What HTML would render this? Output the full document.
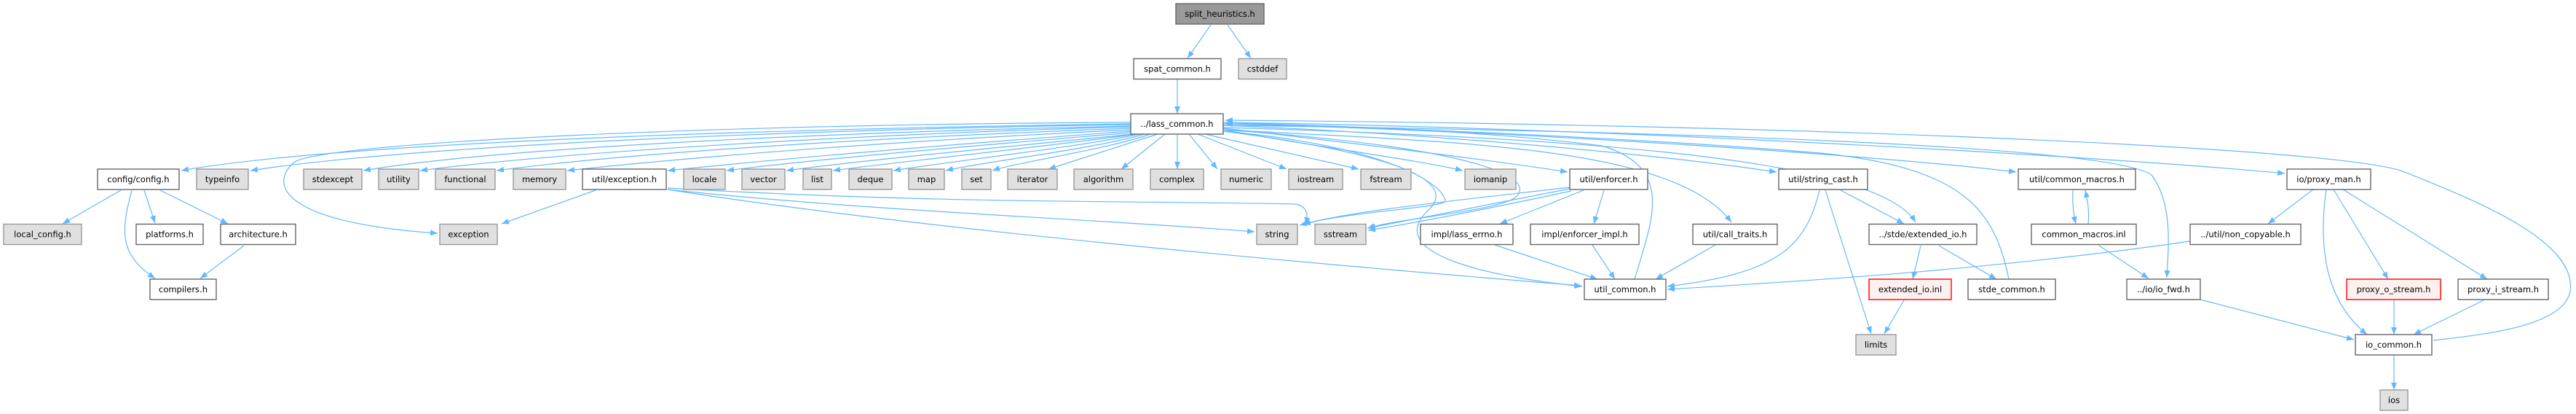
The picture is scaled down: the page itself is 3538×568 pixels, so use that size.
<!DOCTYPE html>
<html><head><meta charset="utf-8"><style>
html,body{margin:0;padding:0;background:#fff}
svg{display:block}
text{font-family:"DejaVu Sans","Liberation Sans",sans-serif;font-size:11.5px;fill:#000;text-anchor:middle}
.n{fill:#fff;stroke:#666;stroke-width:1.4}
.s{fill:#e0e0e0;stroke:#999;stroke-width:1.4}
.r{fill:#fff0f0;stroke:#f00;stroke-width:1.4}
.m{fill:#999;stroke:#666;stroke-width:1.4}
.e{fill:none;stroke:#63b8ff;stroke-width:1.2}
</style></head><body>
<svg width="3538" height="568" viewBox="0 0 3538 568" xmlns="http://www.w3.org/2000/svg">
<defs><marker id="a" viewBox="0 0 10 8" refX="10" refY="4" markerWidth="10" markerHeight="8" markerUnits="userSpaceOnUse" orient="auto"><path d="M0,0 L10,4 L0,8z" fill="#63b8ff"/></marker></defs>
<g class="e" marker-end="url(#a)">
<path d="M1663,34 L1631,80"/>
<path d="M1686,34 L1718,80"/>
<path d="M1617,109 L1617,156"/>
<path d="M1553,170 C1200,175 500,190 249,234"/>
<path d="M1553,171 C1200,176 600,195 344,234"/>
<path d="M1553,173 C1200,180 700,200 499,234"/>
<path d="M1553,174 C1250,182 800,205 577,234"/>
<path d="M1553,176 C1300,185 900,205 682,234"/>
<path d="M1553,178 C1300,190 1000,210 779,234"/>
<path d="M1553,180 C1350,195 1100,215 917,234"/>
<path d="M1553,182 C1400,195 1150,215 998,234"/>
<path d="M1556,184 C1400,200 1200,218 1080,234"/>
<path d="M1560,184 C1450,200 1250,220 1144,234"/>
<path d="M1565,184 C1480,202 1300,222 1227,234"/>
<path d="M1572,184 C1500,205 1350,222 1299,234"/>
<path d="M1580,184 C1520,205 1400,222 1363,234"/>
<path d="M1590,184 L1440,232"/>
<path d="M1600,184 L1540,232"/>
<path d="M1617,184 L1617,232"/>
<path d="M1633,184 L1672,232"/>
<path d="M1645,184 L1767,232"/>
<path d="M1655,184 L1866,232"/>
<path d="M1680,178 C1800,200 1950,220 2009,234"/>
<path d="M1680,176 C1850,195 2050,220 2153,236"/>
<path d="M1680,172 C2000,185 2300,215 2440,236"/>
<path d="M1680,170 C2100,180 2600,215 2769,236"/>
<path d="M1680,168 C2200,175 2900,215 3138,238"/>
<path d="M1553,168 C1000,170 450,195 405,222 C370,250 380,305 601,320"/>
<path d="M1680,180 C1900,200 1980,250 1985,275 C1990,285 1850,290 1790,308"/>
<path d="M1680,178 C2000,200 2120,240 2080,272 C2050,290 1920,300 1878,313"/>
<path d="M1680,180 C1950,215 2000,255 1960,290 C1900,350 2050,380 2173,393"/>
<path d="M2245,383 C2270,300 2300,230 2200,200 C2000,175 1750,170 1683,170"/>
<path d="M1680,178 C2000,195 2300,200 2378,305"/>
<path d="M1680,175 C2200,190 2580,220 2631,305"/>
<path d="M2759,383 C2740,290 2700,230 2500,210 C2200,185 1800,172 1683,168"/>
<path d="M1680,172 C2300,180 2900,200 2955,240 C2985,280 2978,340 2976,381"/>
<path d="M3342,467 C3400,460 3520,450 3530,400 C3540,330 3400,275 3300,235 C3200,200 2400,170 1683,165"/>
<path d="M166,261 L86,307"/>
<path d="M198,261 L213,306"/>
<path d="M220,261 L313,307"/>
<path d="M181,261 C165,320 165,350 213,382"/>
<path d="M335,337 L275,382"/>
<path d="M818,261 L689,307"/>
<path d="M917,260 C1200,290 1500,300 1723,318"/>
<path d="M917,258 C1300,280 1550,275 1780,280 C1800,285 1795,300 1793,308"/>
<path d="M917,260 C1300,320 1900,370 2172,392"/>
<path d="M2156,257 C2000,275 1850,290 1785,309"/>
<path d="M2156,259 C2050,280 1950,300 1879,313"/>
<path d="M2158,262 C2050,285 1950,305 1879,316"/>
<path d="M2175,261 L2060,307"/>
<path d="M2203,261 L2189,307"/>
<path d="M2053,336 L2194,383"/>
<path d="M2187,336 L2218,383"/>
<path d="M2356,336 L2274,383"/>
<path d="M2499,261 C2480,340 2440,375 2290,393"/>
<path d="M3008,331 C2700,375 2400,390 2290,397"/>
<path d="M2507,261 L2570,458"/>
<path d="M2528,261 L2615,307"/>
<path d="M2638,337 L2627,383"/>
<path d="M2663,337 L2742,383"/>
<path d="M2615,412 L2588,458"/>
<path d="M2847,261 C2846,280 2848,295 2851,307"/>
<path d="M2868,307 C2870,290 2867,275 2864,261"/>
<path d="M2883,337 L2951,382"/>
<path d="M3022,411 L3233,466"/>
<path d="M3177,260 L3115,307"/>
<path d="M3195,260 C3185,330 3190,410 3251,459"/>
<path d="M3205,260 L3280,383"/>
<path d="M3218,260 L3416,383"/>
<path d="M3288,412 L3288,459"/>
<path d="M3411,412 L3315,459"/>
<path d="M3288,487 L3288,535"/>
</g>
<!-- nodes -->
<rect class="m" x="1615" y="5" width="121" height="28"/><text x="1675.5" y="23">split_heuristics.h</text>
<rect class="n" x="1557" y="80.5" width="120" height="28"/><text x="1617" y="98.5">spat_common.h</text>
<rect class="s" x="1701" y="80.5" width="66" height="28"/><text x="1734" y="98.5">cstddef</text>
<rect class="n" x="1553" y="156" width="127" height="28"/><text x="1616.5" y="174">../lass_common.h</text>

<rect class="n" x="134" y="232" width="112" height="28"/><text x="190" y="250">config/config.h</text>
<rect class="s" x="270" y="232" width="71" height="28"/><text x="305.5" y="250">typeinfo</text>
<rect class="s" x="417" y="232" width="80" height="28"/><text x="457" y="250">stdexcept</text>
<rect class="s" x="520" y="232" width="55" height="28"/><text x="547.5" y="250">utility</text>
<rect class="s" x="598" y="232" width="82" height="28"/><text x="639" y="250">functional</text>
<rect class="s" x="705" y="232" width="72" height="28"/><text x="741" y="250">memory</text>
<rect class="n" x="800" y="232" width="115" height="28"/><text x="857.5" y="250">util/exception.h</text>
<rect class="s" x="939" y="232" width="57" height="28"/><text x="967.5" y="250">locale</text>
<rect class="s" x="1019" y="232" width="59" height="28"/><text x="1048.5" y="250">vector</text>
<rect class="s" x="1103" y="232" width="39" height="28"/><text x="1122.5" y="250">list</text>
<rect class="s" x="1166" y="232" width="59" height="28"/><text x="1195.5" y="250">deque</text>
<rect class="s" x="1248" y="232" width="49" height="28"/><text x="1272.5" y="250">map</text>
<rect class="s" x="1321" y="232" width="40" height="28"/><text x="1341" y="250">set</text>
<rect class="s" x="1384" y="232" width="68" height="28"/><text x="1418" y="250">iterator</text>
<rect class="s" x="1475" y="232" width="81" height="28"/><text x="1515.5" y="250">algorithm</text>
<rect class="s" x="1580" y="232" width="73" height="28"/><text x="1616.5" y="250">complex</text>
<rect class="s" x="1677" y="232" width="69" height="28"/><text x="1711.5" y="250">numeric</text>
<rect class="s" x="1770" y="232" width="74" height="28"/><text x="1807" y="250">iostream</text>
<rect class="s" x="1869" y="232" width="69" height="28"/><text x="1903.5" y="250">fstream</text>
<rect class="s" x="2012" y="232" width="70" height="28"/><text x="2047" y="250">iomanip</text>
<rect class="n" x="2156" y="232" width="107" height="28"/><text x="2209.5" y="250">util/enforcer.h</text>
<rect class="n" x="2443" y="232" width="122" height="28"/><text x="2504" y="250">util/string_cast.h</text>
<rect class="n" x="2772" y="232" width="161" height="28"/><text x="2852.5" y="250">util/common_macros.h</text>
<rect class="n" x="3141" y="232" width="115" height="28"/><text x="3198.5" y="250">io/proxy_man.h</text>

<rect class="s" x="5" y="307.5" width="107" height="28"/><text x="58.5" y="325.5">local_config.h</text>
<rect class="n" x="187" y="307.5" width="92" height="28"/><text x="233" y="325.5">platforms.h</text>
<rect class="n" x="303" y="307.5" width="103" height="28"/><text x="354.5" y="325.5">architecture.h</text>
<rect class="s" x="604" y="307.5" width="79" height="28"/><text x="643.5" y="325.5">exception</text>
<rect class="s" x="1726" y="307.5" width="56" height="28"/><text x="1754" y="325.5">string</text>
<rect class="s" x="1806" y="307.5" width="70" height="28"/><text x="1841" y="325.5">sstream</text>
<rect class="n" x="1951" y="307.5" width="127" height="28"/><text x="2014.5" y="325.5">impl/lass_errno.h</text>
<rect class="n" x="2102" y="307.5" width="149" height="28"/><text x="2176.5" y="325.5">impl/enforcer_impl.h</text>
<rect class="n" x="2325" y="307.5" width="116" height="28"/><text x="2383" y="325.5">util/call_traits.h</text>
<rect class="n" x="2567" y="307.5" width="148" height="28"/><text x="2641" y="325.5">../stde/extended_io.h</text>
<rect class="n" x="2790" y="307.5" width="144" height="28"/><text x="2862" y="325.5">common_macros.inl</text>
<rect class="n" x="3008" y="307.5" width="152" height="28"/><text x="3084" y="325.5">../util/non_copyable.h</text>

<rect class="n" x="206" y="383" width="91" height="28"/><text x="251.5" y="401">compilers.h</text>
<rect class="n" x="2176" y="383" width="112" height="28"/><text x="2232" y="401">util_common.h</text>
<rect class="r" x="2567" y="383" width="113" height="28"/><text x="2623.5" y="401">extended_io.inl</text>
<rect class="n" x="2703" y="383" width="120" height="28"/><text x="2763" y="401">stde_common.h</text>
<rect class="n" x="2921" y="383" width="101" height="28"/><text x="2971.5" y="401">../io/io_fwd.h</text>
<rect class="r" x="3223" y="383" width="129" height="28"/><text x="3287.5" y="401">proxy_o_stream.h</text>
<rect class="n" x="3376" y="383" width="124" height="28"/><text x="3438" y="401">proxy_i_stream.h</text>

<rect class="s" x="2549" y="459" width="55" height="28"/><text x="2576.5" y="477">limits</text>
<rect class="n" x="3235" y="459" width="105" height="28"/><text x="3287.5" y="477">io_common.h</text>
<rect class="s" x="3269" y="535" width="38" height="28"/><text x="3288" y="553">ios</text>
</svg>
</body></html>
